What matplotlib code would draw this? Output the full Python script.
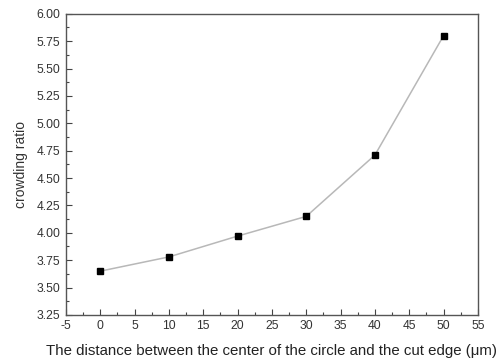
import matplotlib
matplotlib.use("Agg")
import matplotlib.pyplot as plt
from matplotlib.ticker import MultipleLocator

plt.rcParams["font.family"] = ["Liberation Sans", "DejaVu Sans"]
plt.rcParams["axes.unicode_minus"] = False

# distance between circle center and cut edge (um)
distance = [0, 10, 20, 30, 40, 50]
crowding_ratio = [3.65, 3.78, 3.97, 4.15, 4.71, 5.80]

fig = plt.figure(figsize=(5.02, 3.62), dpi=100)
ax = fig.add_axes([0.1315, 0.13, 0.8205, 0.832])

ax.plot(distance, crowding_ratio, color="#b8b8b8", linewidth=1.1, zorder=1)
ax.plot(distance, crowding_ratio, linestyle="none", marker="s", markersize=5,
        color="black", zorder=2)

ax.set_xlim(-5, 55)
ax.set_ylim(3.25, 6.00)
ax.xaxis.set_major_locator(MultipleLocator(5))
ax.xaxis.set_minor_locator(MultipleLocator(2.5))
ax.yaxis.set_major_locator(MultipleLocator(0.25))
ax.yaxis.set_minor_locator(MultipleLocator(0.125))
ax.yaxis.set_major_formatter(plt.FormatStrFormatter("%.2f"))

ax.tick_params(which="both", direction="in", top=False, right=False,
               color="#444444", labelcolor="#333333", labelsize=8.7, pad=4)
ax.tick_params(which="major", length=4.5, width=0.8)
ax.tick_params(which="minor", length=2.5, width=0.8)
for s in ax.spines.values():
    s.set_color("#555555")
    s.set_linewidth(1.0)

ax.set_xlabel("The distance between the center of the circle and the cut edge (\u03bcm)",
              fontsize=10.8, color="#222222", labelpad=8)
ax.set_ylabel("crowding ratio", fontsize=10, color="#333333", labelpad=6)

fig.savefig("out.png", dpi=100)
